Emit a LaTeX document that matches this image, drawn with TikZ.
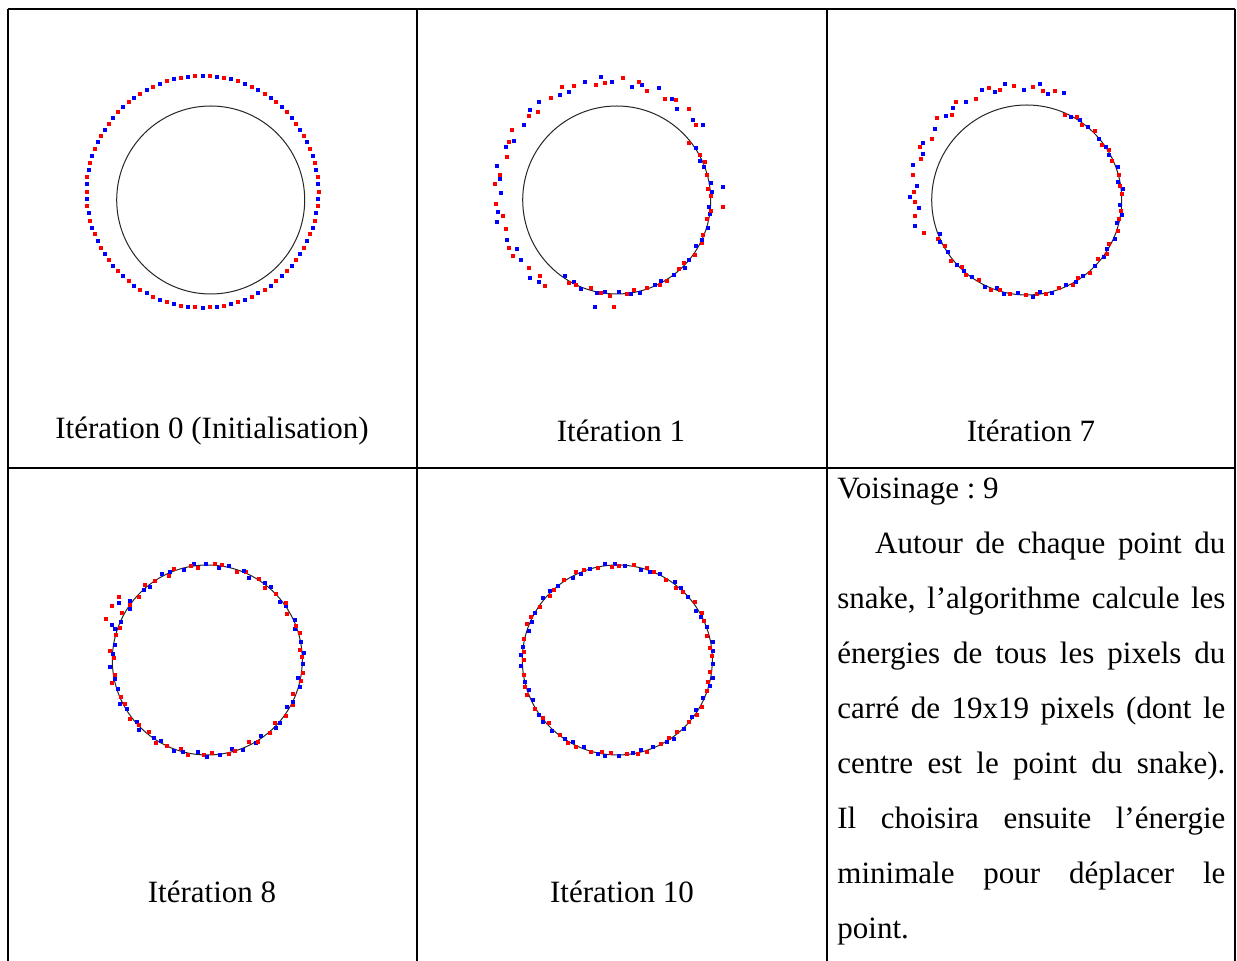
\documentclass[tikz,border=0pt]{standalone}
\usepackage{fontspec}
\setmainfont{Liberation Serif}
\definecolor{snakered}{RGB}{255,0,0}
\definecolor{snakeblue}{RGB}{0,0,255}
\tikzset{
  rule/.style={line width=1pt},
  contour/.style={line width=0.5pt, black!85},
  dot0/.style={fill=snakered},
  dot1/.style={fill=snakeblue},
  iterlabel/.style={font=\fontsize{15.5}{18}\selectfont, anchor=base, inner sep=0pt},
  para/.style={font=\fontsize{15.5}{27.5}\selectfont\frenchspacing, anchor=base west, inner sep=0pt, text width=194pt, align=justify}
}

\begin{document}
\begin{tikzpicture}[x=0.5pt, y=-0.5pt]
\useasboundingbox (0,0) rectangle (1237,961);
\fill [white] (0,0) rectangle (1237,961);
\draw [rule] (8,9) -- (1235,9);
\draw [rule] (8,468) -- (1235,468);
\foreach \x in {8, 417, 827, 1235}{\draw [rule] (\x,9) -- (\x,961);}

\draw [contour] (210.7,200) circle (94);
\draw [contour] (616.7,200) circle (94);
\draw [contour] (1026.7,200) circle (95);
\draw [contour] (207.3,660) circle (95);
\draw [contour] (617.3,660) circle (95);

\foreach \i in {0,...,99}{
  \pgfmathsetmacro\px{202.5+116*cos(3.6*\i)}
  \pgfmathsetmacro\py{191.7-116*sin(3.6*\i)}
  \pgfmathtruncatemacro\c{mod(\i,2)}
  \fill [dot\c] (\px-2,\py-2) rectangle +(4,4);
}

\foreach \i in {0,...,99}{
  \pgfmathsetmacro\a{3.6*\i+1}
  \pgfmathsetmacro\r{(\a>38 && \a<233) ? 110+12*sin((\a-38)*0.923)+4*sin(\i*137.5) : 94+2*sin(\i*137.5)}
  \pgfmathsetmacro\px{616.7+\r*cos(\a+1.5*cos(\i*71))}
  \pgfmathsetmacro\py{200-\r*sin(\a+1.5*cos(\i*71))}
  \pgfmathtruncatemacro\c{mod(\i,2)}
  \fill [dot\c] (\px-2,\py-2) rectangle +(4,4);
}
\foreach \x/\y/\c in {722.7/186.7/1, 722.7/206.7/0, 595/307.3/1, 614.3/307.3/0}{
  \fill [dot\c] (\x-2,\y-2) rectangle +(4,4);
}

\foreach \i in {0,...,99}{
  \pgfmathsetmacro\a{3.6*\i+2}
  \pgfmathsetmacro\r{(\a>70 && \a<197) ? 110+7*sin((\a-70)*1.417)+4*sin(\i*97.3) : 95+2*sin(\i*97.3)}
  \pgfmathsetmacro\px{1026.7+\r*cos(\a+1.5*cos(\i*53))}
  \pgfmathsetmacro\py{200-\r*sin(\a+1.5*cos(\i*53))}
  \pgfmathtruncatemacro\c{mod(\i,2)}
  \fill [dot\c] (\px-2,\py-2) rectangle +(4,4);
}

\foreach \i in {0,...,99}{
  \pgfmathsetmacro\a{3.6*\i+0.5}
  \pgfmathsetmacro\r{95+2.5*sin(\i*121.7)}
  \pgfmathsetmacro\px{207.3+\r*cos(\a+1.5*cos(\i*83))}
  \pgfmathsetmacro\py{660-\r*sin(\a+1.5*cos(\i*83))}
  \pgfmathtruncatemacro\c{mod(\i,2)}
  \fill [dot\c] (\px-2,\py-2) rectangle +(4,4);
}
\foreach \x/\y/\c in {119/596.7/0, 111.7/605.7/0, 119/602.7/1, 105.7/619/0, 111.7/625/1}{
  \fill [dot\c] (\x-2,\y-2) rectangle +(4,4);
}

\foreach \i in {0,...,99}{
  \pgfmathsetmacro\a{3.6*\i+1.2}
  \pgfmathsetmacro\r{95+2*sin(\i*149.3)}
  \pgfmathsetmacro\px{617.3+\r*cos(\a+1.5*cos(\i*61))}
  \pgfmathsetmacro\py{660-\r*sin(\a+1.5*cos(\i*61))}
  \pgfmathtruncatemacro\c{mod(\i,2)}
  \fill [dot\c] (\px-2,\py-2) rectangle +(4,4);
}

\node [iterlabel] (lab0) at (212,439) {Itération 0 (Initialisation)};
\node [iterlabel] (lab1) at (621,442) {Itération 1};
\node [iterlabel] (lab7) at (1031,442) {Itération 7};
\node [iterlabel] (lab8) at (212,902) {Itération 8};
\node [iterlabel] (lab10) at (622,902) {Itération 10};

\node [para] (txt) at (837,499) {\tolerance=10000\noindent Voisinage : 9\par
\setlength{\parindent}{18.9pt}Autour de chaque point du\linebreak
snake, l’algorithme calcule les\linebreak
énergies de tous les pixels du\linebreak
carré de 19x19 pixels (dont le\linebreak
centre est le point du snake).\linebreak
Il choisira ensuite l’énergie\linebreak
minimale pour déplacer le\linebreak
point.\par};
\end{tikzpicture}
\end{document}
